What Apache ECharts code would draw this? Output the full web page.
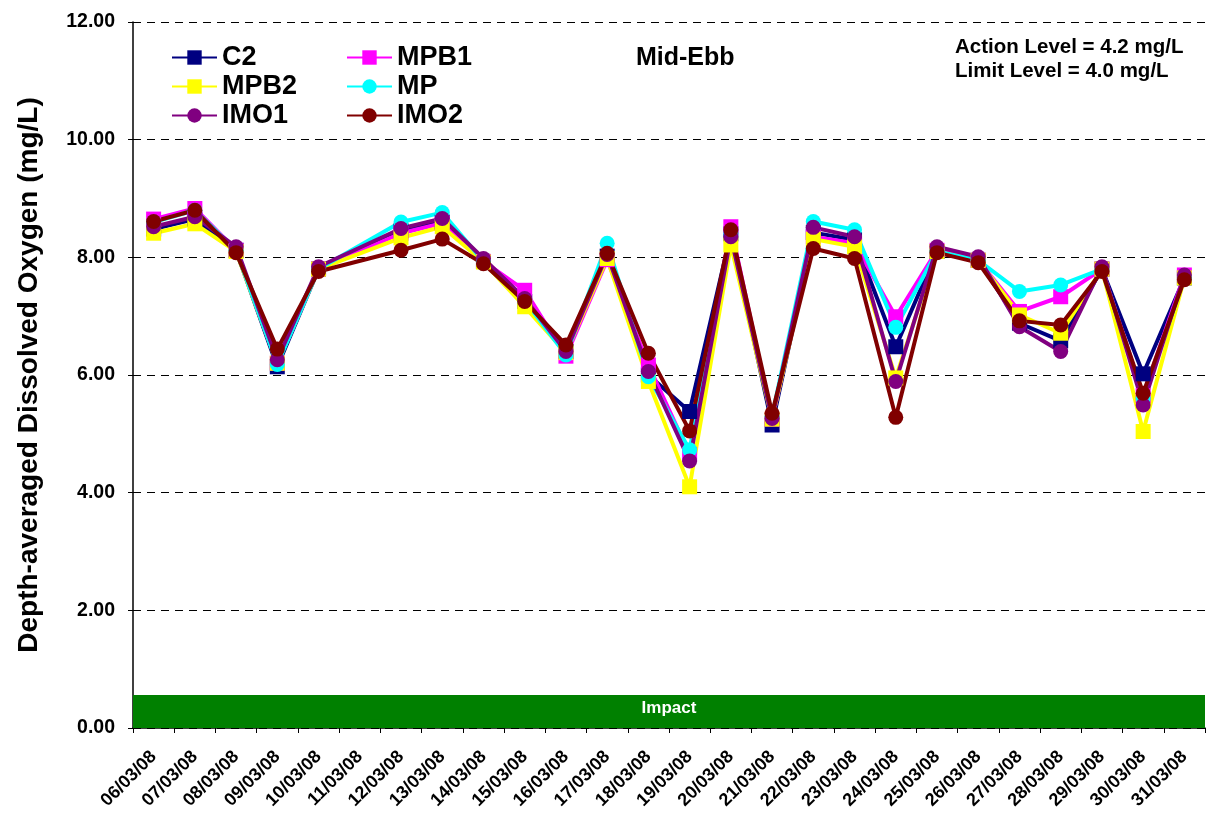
<!DOCTYPE html>
<html>
<head>
<meta charset="utf-8">
<script src="https://cdn.jsdelivr.net/npm/echarts@6/dist/echarts.min.js"></script>
<style>
html,body{margin:0;padding:0;background:#fff;}
#chart{width:1208px;height:825px;}
</style>
</head>
<body>
<div id="chart"></div>
<script>
const categories = ['06/03/08','07/03/08','08/03/08','09/03/08','10/03/08','11/03/08','12/03/08','13/03/08','14/03/08','15/03/08','16/03/08','17/03/08','18/03/08','19/03/08','20/03/08','21/03/08','22/03/08','23/03/08','24/03/08','25/03/08','26/03/08','27/03/08','28/03/08','29/03/08','30/03/08','31/03/08'];
const C2   = [8.48, 8.65, 8.12, 6.14, 7.80, null, 8.45, 8.60, 7.93, 7.25, 6.40, 8.02, 6.00, 5.38, 8.40, 5.15, 8.42, 8.30, 6.48, 8.10, 7.95, 6.88, 6.58, 7.80, 6.02, 7.65];
const MPB1 = [8.65, 8.83, 8.12, 6.20, 7.80, null, 8.41, 8.58, 7.93, 7.44, 6.32, 7.96, 6.17, 4.65, 8.52, 5.25, 8.35, 8.24, 6.99, 8.12, 7.95, 7.08, 7.33, 7.80, 5.65, 7.70];
const MPB2 = [8.41, 8.57, 8.10, 6.20, 7.80, null, 8.33, 8.52, 7.92, 7.16, 6.38, 7.98, 5.89, 4.10, 8.21, 5.25, 8.31, 8.18, 5.95, 8.10, 7.95, 7.02, 6.71, 7.80, 5.04, 7.65];
const MP   = [8.60, 8.80, 8.12, 6.18, 7.80, null, 8.60, 8.76, 7.93, 7.27, 6.34, 8.24, 5.97, 4.73, 8.40, 5.30, 8.61, 8.47, 6.81, 8.10, 7.95, 7.42, 7.53, 7.80, 5.60, 7.65];
const IMO1 = [8.52, 8.69, 8.18, 6.26, 7.84, null, 8.49, 8.66, 7.98, 7.30, 6.40, 8.05, 6.06, 4.54, 8.35, 5.26, 8.51, 8.35, 5.89, 8.18, 8.01, 6.82, 6.40, 7.84, 5.49, 7.70];
const IMO2 = [8.61, 8.80, 8.08, 6.44, 7.76, null, 8.12, 8.31, 7.89, 7.25, 6.51, 8.07, 6.37, 5.05, 8.47, 5.35, 8.15, 7.98, 5.28, 8.08, 7.91, 6.92, 6.85, 7.76, 5.69, 7.62];
const impactBand = [0, 0.56];

const FONT = 'Liberation Sans, Arial, sans-serif';
const chart = echarts.init(document.getElementById('chart'));

function mk(name, data, color, symbol) {
  return {
    name: name, type: 'line', data: data, connectNulls: true,
    symbol: symbol, symbolSize: 15,
    lineStyle: { color: color, width: 4 },
    itemStyle: { color: color },
    animation: false
  };
}

const series = [
  mk('C2', C2, '#000080', 'rect'),
  mk('MPB1', MPB1, '#FF00FF', 'rect'),
  mk('MPB2', MPB2, '#FFFF00', 'rect'),
  mk('MP', MP, '#00FFFF', 'circle'),
  mk('IMO1', IMO1, '#800080', 'circle'),
  mk('IMO2', IMO2, '#800000', 'circle')
];
series[0].markArea = {
  silent: true,
  itemStyle: { color: '#008000', opacity: 1 },
  label: { show: true, position: 'inside', color: '#fff', fontWeight: 'bold', fontSize: 17, fontFamily: FONT, offset: [0, -3] },
  data: [[{ name: 'Impact', yAxis: impactBand[0] }, { yAxis: impactBand[1] }]]
};

const legendCommon = {
  orient: 'vertical', itemWidth: 45, itemHeight: 18, itemGap: 2,
  textStyle: { fontSize: 27, fontWeight: 'bold', color: '#000', fontFamily: FONT }
};

chart.setOption({
  backgroundColor: '#fff',
  animation: false,
  grid: { left: 133, top: 22, right: 3, bottom: 97, containLabel: false },
  legend: [
    Object.assign({}, legendCommon, { left: 166, top: 39, data: ['C2', 'MPB2', 'IMO1'] }),
    Object.assign({}, legendCommon, { left: 341, top: 39, data: ['MPB1', 'MP', 'IMO2'] })
  ],
  graphic: [
    { type: 'text', left: 636, top: 46, style: { text: 'Mid-Ebb', font: 'bold 25px ' + FONT, fill: '#000' } },
    { type: 'text', left: 955, top: 37, style: { text: 'Action Level = 4.2 mg/L', font: 'bold 20.5px ' + FONT, fill: '#000' } },
    { type: 'text', left: 955, top: 61, style: { text: 'Limit Level = 4.0 mg/L', font: 'bold 20.5px ' + FONT, fill: '#000' } }
  ],
  xAxis: {
    type: 'category', data: categories, boundaryGap: true,
    axisLine: { lineStyle: { color: '#000', width: 1.5 } },
    axisTick: { show: true, length: 5, lineStyle: { color: '#000' } },
    axisLabel: { rotate: 45, interval: 0, fontSize: 18, fontWeight: 'bold', color: '#000', fontFamily: FONT, margin: 26 },
    splitLine: { show: false }
  },
  yAxis: {
    type: 'value', min: 0, max: 12, interval: 2,
    name: 'Depth-averaged Dissolved Oxygen (mg/L)', nameLocation: 'middle', nameGap: 90,
    nameTextStyle: { fontSize: 28, fontWeight: 'bold', color: '#000', fontFamily: FONT },
    axisLine: { show: true, lineStyle: { color: '#000', width: 1.5 } },
    axisTick: { show: true, length: 5, lineStyle: { color: '#000' } },
    axisLabel: { formatter: v => v.toFixed(2), fontSize: 19.5, fontWeight: 'bold', color: '#000', fontFamily: FONT, margin: 18 },
    splitLine: { show: true, lineStyle: { color: '#000', type: [8, 6], width: 1 } }
  },
  series: series
});
</script>
</body>
</html>
